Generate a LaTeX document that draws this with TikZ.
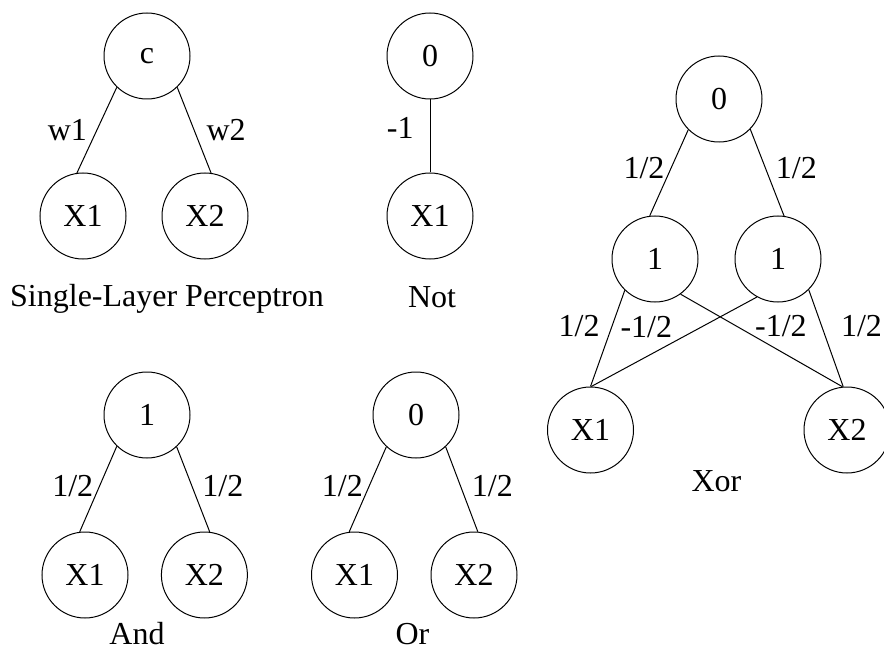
\documentclass[tikz,border=0pt]{standalone}
\usepackage{fontspec}
\setmainfont{Liberation Serif}

\begin{document}
\begin{tikzpicture}[
			node distance=80pt,
			base/.style={font=\fontsize{16}{19}\selectfont},
			neuron/.style={base, draw, circle, line width=0.5pt, minimum size=43pt, inner sep=0pt},
			weight/.style={base, inner sep=3pt},
			caption/.style={base, text height=1.5ex, text depth=.25ex},
			link/.style={line width=0.5pt},
		]

		\useasboundingbox (0,0) rectangle (442pt,-329pt);

		% single-layer perceptron
		\node[neuron] (c) at (73.5pt,-28pt) {c};
		\node[neuron, below of=c, xshift=-32pt] (p-x1) {X1};
		\node[neuron, right of=p-x1, xshift=-19pt] (p-x2) {X2};
		\node[caption, below of=p-x1, xshift=42pt, yshift=37.5pt] (p-caption) {Single-Layer Perceptron};

		% not
		\node[neuron, right of=c, xshift=61.5pt] (n-0) {0};
		\node[neuron, below of=n-0] (n-x1) {X1};
		\node[caption, below of=n-x1, xshift=1pt, yshift=37pt] (n-caption) {Not};

		% xor
		\node[neuron, right of=n-0, xshift=64.5pt, yshift=-21.5pt] (x-0) {0};
		\node[neuron, below of=x-0, xshift=-32pt] (x-h1) {1};
		\node[neuron, right of=x-h1, xshift=-18.5pt] (x-h2) {1};
		\node[neuron, below of=x-h1, xshift=-32.25pt, yshift=-5.5pt] (x-x1) {X1};
		\node[neuron, right of=x-x1, xshift=48.25pt] (x-x2) {X2};
		\node[caption, below of=x-x1, xshift=63pt, yshift=52pt] (x-caption) {Xor};

		% and
		\node[neuron, below of=c, yshift=-99.5pt] (a-1) {1};
		\node[neuron, below of=a-1, xshift=-31pt] (a-x1) {X1};
		\node[neuron, right of=a-x1, xshift=-20.3pt] (a-x2) {X2};
		\node[caption, below of=a-x1, xshift=26pt, yshift=48pt] (a-caption) {And};

		% or
		\node[neuron, right of=a-1, xshift=54.5pt] (o-0) {0};
		\node[neuron, below of=o-0, xshift=-30.75pt] (o-x1) {X1};
		\node[neuron, right of=o-x1, xshift=-20.25pt] (o-x2) {X2};
		\node[caption, below of=o-x1, xshift=29pt, yshift=48pt] (o-caption) {Or};

		\draw[link] (c.226) -- node[weight, anchor=east, xshift=-1.75pt] {w1} (p-x1.98);
		\draw[link] (c.314) -- node[weight, anchor=west, xshift=3pt] {w2} (p-x2.82);
		\draw[link] (n-0) -- node[weight, pos=0.39, anchor=east, xshift=-5pt] {-1} (n-x1);
		\draw[link] (x-0.225) -- node[weight, pos=0.45, anchor=east] {1/2} (x-h1.97);
		\draw[link] (x-0.316) -- node[weight, pos=0.45, anchor=west, xshift=2pt] {1/2} (x-h2.82);
		\draw[link] (x-h1.226) -- node[weight, pos=0.37, anchor=east, xshift=-3pt] {1/2} (x-x1.90);
		\draw[link] (x-h2.241) -- node[weight, pos=0.34, anchor=east, xshift=-11pt] {-1/2} (x-x1.89);
		\draw[link] (x-h1.306) -- node[weight, pos=0.34, anchor=west, xshift=6.5pt] {-1/2} (x-x2.96);
		\draw[link] (x-h2.315) -- node[weight, pos=0.37, anchor=west, xshift=6.5pt] {1/2} (x-x2.95);
		\draw[link] (a-1.226) -- node[weight, pos=0.46, anchor=east] {1/2} (a-x1.97);
		\draw[link] (a-1.313) -- node[weight, pos=0.46, anchor=west, xshift=2pt] {1/2} (a-x2.83);
		\draw[link] (o-0.227) -- node[weight, pos=0.46, anchor=east] {1/2} (o-x1.97);
		\draw[link] (o-0.313) -- node[weight, pos=0.46, anchor=west, xshift=2.5pt] {1/2} (o-x2.85);

		\end{tikzpicture}
\end{document}
